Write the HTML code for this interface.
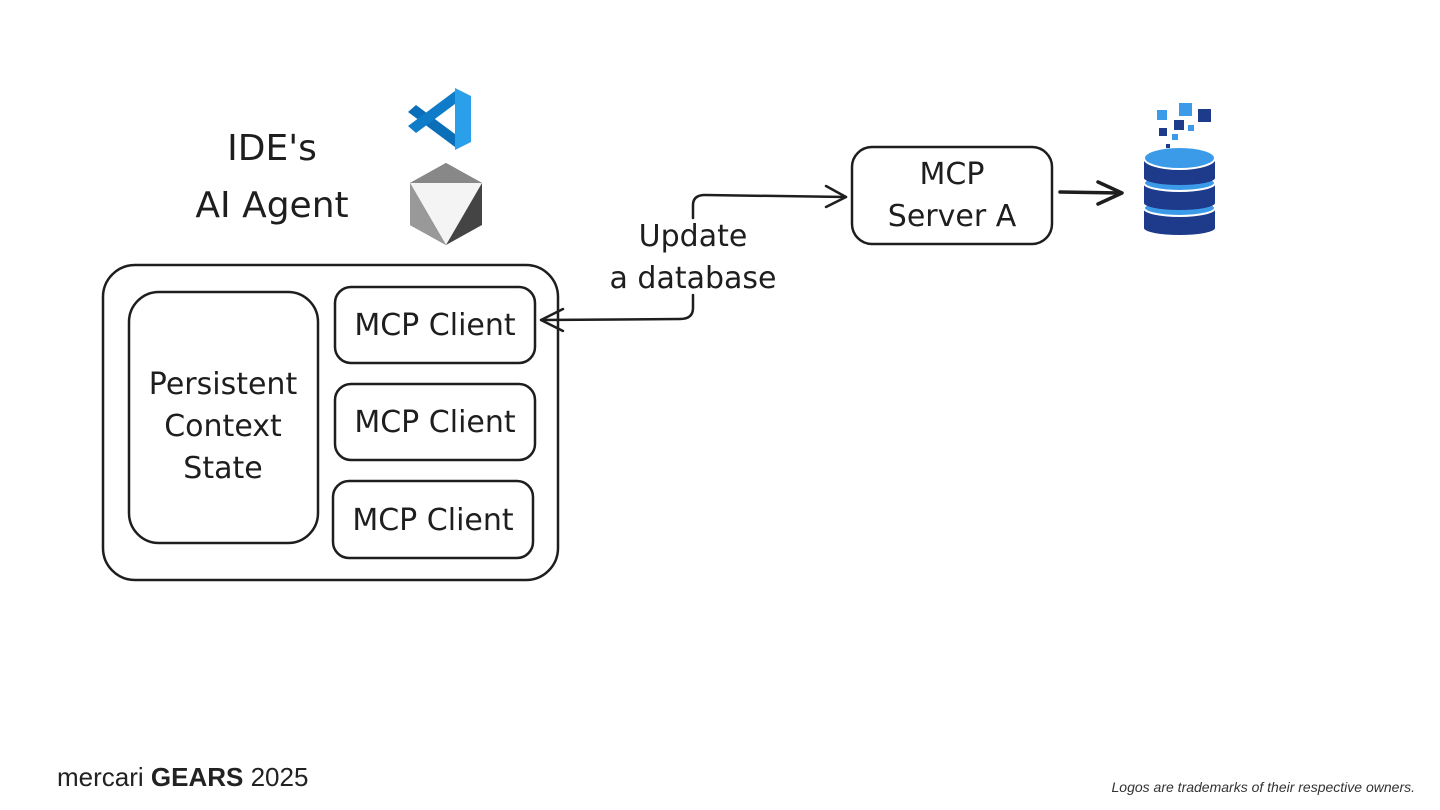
<!DOCTYPE html>
<html><head><meta charset="utf-8"><style>
body{margin:0;background:#fff;}
svg{display:block}
.t{font-family:"DejaVu Sans","Liberation Sans",sans-serif;fill:#1e1e1e;text-anchor:middle}
</style></head><body>
<svg width="1440" height="810" viewBox="0 0 1440 810" xmlns="http://www.w3.org/2000/svg">
<g fill="none" stroke="#1e1e1e" stroke-width="2.5" stroke-linecap="round" stroke-linejoin="round">
<rect x="103" y="265" width="455" height="315" rx="32"/>
<rect x="129" y="292" width="189" height="251" rx="30"/>
<rect x="335" y="287" width="200" height="76" rx="16"/>
<rect x="335" y="384" width="200" height="76" rx="16"/>
<rect x="333" y="481" width="200" height="77" rx="16"/>
<rect x="852" y="147" width="200" height="97" rx="20"/>
<path d="M693 218 L693 205 Q693 195 705 195 L846 197"/>
<path d="M826 186 L846 197 L826 207"/>
<path d="M693 295 L693 308 Q693 319 680 319 L541 320"/>
<path d="M563 309 L541 320 L563 331"/>
<path d="M1060 192 L1120 193" stroke-width="3.5"/>
<path d="M1098 182 L1122 193 L1098 204" stroke-width="3.5"/>
</g>
<g class="t" font-size="30">
<text x="272" y="160" font-size="36">IDE's</text>
<text x="272" y="217" font-size="36">AI Agent</text>
<text x="223" y="394">Persistent</text>
<text x="223" y="436">Context</text>
<text x="223" y="478">State</text>
<text x="435" y="335">MCP Client</text>
<text x="435" y="432">MCP Client</text>
<text x="433" y="530">MCP Client</text>
<text x="952" y="184">MCP</text>
<text x="952" y="226">Server A</text>
<text x="693" y="246">Update</text>
<text x="693" y="288">a database</text>
</g>
<!-- VS Code logo -->
<g>
<polygon points="408,112 416,105 455,134 455,147" fill="#0a6fb8"/>
<polygon points="408,126 416,133 455,104 455,91" fill="#0f7cc9"/>
<polygon points="455,88 471,96 471,142 455,150" fill="#2aa0ea"/>
</g>
<!-- cursor hex logo -->
<g>
<polygon points="446,163 482,183 482,225 446,245 410,225 410,183" fill="#444"/>
<polygon points="410,183 446,203 482,183 446,163" fill="#888"/>
<polygon points="410,183 482,183 446,245" fill="#f4f4f4"/>
<polygon points="446,245 410,225 410,183" fill="#999"/>
</g>
<!-- database -->
<g>
<g>
<rect x="1144" y="208" width="71" height="20" fill="#1e3a8a"/>
<ellipse cx="1179.5" cy="228" rx="35.5" ry="7" fill="#1e3a8a"/>
<ellipse cx="1179.5" cy="208" rx="35.5" ry="8" fill="#3c9be8" stroke="#fff" stroke-width="2"/>
</g>
<g>
<rect x="1144" y="183" width="71" height="20" fill="#1e3a8a"/>
<ellipse cx="1179.5" cy="203" rx="35.5" ry="7" fill="#1e3a8a"/>
<ellipse cx="1179.5" cy="183" rx="35.5" ry="8" fill="#3c9be8" stroke="#fff" stroke-width="2"/>
</g>
<g>
<rect x="1144" y="158" width="71" height="20" fill="#1e3a8a"/>
<ellipse cx="1179.5" cy="178" rx="35.5" ry="7" fill="#1e3a8a"/>
<ellipse cx="1179.5" cy="158" rx="35.5" ry="11" fill="#3c9be8" stroke="#fff" stroke-width="2"/>
</g>
</g>
<g>
<rect x="1157" y="110" width="10" height="10" fill="#3c9be8"/>
<rect x="1179" y="103" width="13" height="13" fill="#3c9be8"/>
<rect x="1198" y="109" width="13" height="13" fill="#1e3a8a"/>
<rect x="1174" y="120" width="10" height="10" fill="#1e3a8a"/>
<rect x="1159" y="128" width="8" height="8" fill="#1e3a8a"/>
<rect x="1188" y="125" width="6" height="6" fill="#3c9be8"/>
<rect x="1172" y="134" width="6" height="6" fill="#3c9be8"/>
<rect x="1166" y="144" width="4" height="4" fill="#1e3a8a"/>
</g>
<text x="57" y="786" font-family="Liberation Sans,sans-serif" font-size="26" fill="#222">mercari <tspan font-weight="bold">GEARS</tspan> 2025</text>
<text x="1415" y="792" font-family="Liberation Sans,sans-serif" font-size="14" font-style="italic" fill="#333" text-anchor="end">Logos are trademarks of their respective owners.</text>
</svg>
</body></html>
